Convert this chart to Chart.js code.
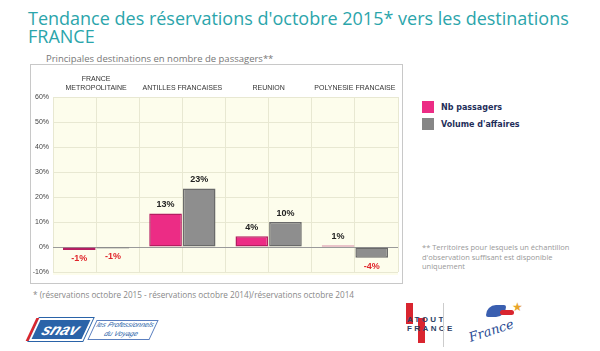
<!DOCTYPE html>
<html lang="fr">
<head>
<meta charset="UTF-8">
<title>Tendance des réservations</title>
<style>
    body { margin: 0; width: 600px; height: 351px; background: #fff; position: relative; overflow: hidden; font-family: 'Open Sans', sans-serif; }
    #title { position: absolute; left: 28px; top: 9px; font-size: 18px; line-height: 18px; color: #2ba5ab; white-space: nowrap; }
    #subtitle { position: absolute; left: 46px; top: 52px; font-size: 9.5px; color: #777; white-space: nowrap; }
    #box { position: absolute; left: 30px; top: 64px; width: 371px; height: 218px; border: 1px solid #c8c8c8; }
    #chartWrap { position: absolute; left: 31px; top: 65px; width: 370px; height: 218px; }
    .leg { position: absolute; left: 422px; font: bold 8px Verdana, 'DejaVu Sans', sans-serif; color: #1f2f5a; }
    .leg span { position: absolute; left: 0; top: 0; width: 12px; height: 12px; }
    .leg b { position: absolute; left: 19px; top: 2px; white-space: nowrap; }
    #note { position: absolute; left: 422px; top: 243px; font-size: 7.5px; line-height: 9.5px; color: #999; white-space: nowrap; }
    #foot { position: absolute; left: 33px; top: 289px; font-size: 8.2px; color: #888; white-space: nowrap; }
    #snav { position: absolute; left: 34px; top: 318px; width: 50px; height: 19px; background: #2a63a8; transform: skewX(-25deg); border: 2px solid #fff; box-shadow: -3px 0 0 #d8262e, 0 0 0 1px #2a63a8; color: #fff; font: italic bold 16px Arial, sans-serif; text-align: center; line-height: 19px; }
    #snav2 { position: absolute; left: 92px; top: 320px; width: 60px; height: 18px; border: 1px solid #5a7fbf; transform: skewX(-25deg); color: #2a63a8; font: italic 7px Arial, sans-serif; line-height: 8.5px; text-align: center; }
    #atout { position: absolute; left: 406px; top: 303px; width: 40px; height: 42px; font: bold 8px Arial, sans-serif; color: #2c3f66; letter-spacing: 2.4px; }
    #atout .bar1 { position: absolute; left: 0; top: 0; width: 7px; height: 21px; background: #d9252f; }
    #atout .bar2 { position: absolute; left: 12px; top: 15px; width: 7px; height: 25px; background: #d9252f; }
    #atout .l1 { position: absolute; left: 1px; top: 12px; }
    #atout .l2 { position: absolute; left: 1px; top: 21px; }
    #sep { position: absolute; left: 443px; top: 303px; width: 1px; height: 44px; background: #ccc; }
    #fr { position: absolute; left: 468px; top: 323px; font: italic 13px 'DejaVu Serif', serif; color: #2a4b94; transform: rotate(-18deg); }
    #mar { position: absolute; left: 486px; top: 305px; width: 20px; height: 12px; border-radius: 10px 2px 10px 2px; background: #3a5fb0; }
    #mar2 { position: absolute; left: 500px; top: 310px; width: 14px; height: 5px; border-radius: 3px; background: #d9252f; }
    #star { position: absolute; left: 512px; top: 300px; font: 12px 'DejaVu Sans', sans-serif; color: #e8a52a; }
</style>
</head>
<body>
<div id="title">Tendance des réservations d'octobre 2015* vers les destinations<br>FRANCE</div>
<div id="subtitle">Principales destinations en nombre de passagers**</div>
<div id="box"></div>
<div id="chartWrap"><canvas id="myChart" width="370" height="218"></canvas></div>
<div class="leg" style="top:101px"><span style="background:#ec2c85"></span><b>Nb passagers</b></div>
<div class="leg" style="top:118px"><span style="background:#868686"></span><b>Volume d'affaires</b></div>
<div id="note">** Territoires pour lesquels un échantillon<br>d'observation suffisant est disponible<br>uniquement</div>
<div id="foot">* (réservations octobre 2015 - réservations octobre 2014)/réservations octobre 2014</div>
<div id="snav">snav</div>
<div id="snav2">les Professionnels<br>du Voyage</div>
<div id="atout"><div class="bar1"></div><div class="bar2"></div><div class="l1">ATOUT</div><div class="l2">FRANCE</div></div>
<div id="sep"></div>
<div id="mar"></div><div id="mar2"></div><div id="star">★</div>
<div id="fr">France</div>

<script src="https://cdn.jsdelivr.net/npm/chart.js"></script>
<script>
    const destinations = [["FRANCE", "METROPOLITAINE"], "ANTILLES FRANCAISES", "REUNION", "POLYNESIE FRANCAISE"];
    const nbPassagers = [-1.2, 13.4, 4.3, 0.6];
    const volumeAffaires = [-0.6, 23.4, 10, -4.3];
    const yTicks = [-10, 0, 10, 20, 30, 40, 50, 60];

    // cream background behind the plot
    const plotBg = {
        id: "plotBg",
        beforeDraw(chart) {
            const a = chart.chartArea;
            const ctx = chart.ctx;
            ctx.save();
            ctx.fillStyle = "#fdfdec";
            ctx.fillRect(a.left, a.top, a.right - a.left, a.bottom - a.top + 3);
            ctx.restore();
        }
    };

    // value labels on bars
    const valueLabels = {
        id: "valueLabels",
        afterDatasetsDraw(chart) {
            const ctx = chart.ctx;
            ctx.save();
            ctx.font = "bold 9px Arial, sans-serif";
            ctx.textAlign = "center";
            chart.data.datasets.forEach((ds, i) => {
                chart.getDatasetMeta(i).data.forEach((bar, j) => {
                    const v = ds.data[j];
                    const txt = Math.round(v) + "%";
                    if (v >= 0) {
                        ctx.fillStyle = "#222";
                        ctx.textBaseline = "bottom";
                        ctx.fillText(txt, bar.x, bar.y - 4);
                    } else {
                        ctx.fillStyle = "#e0262c";
                        ctx.textBaseline = "top";
                        ctx.fillText(txt, bar.x, bar.y + 4);
                    }
                });
            });
            ctx.restore();
        }
    };

    new Chart(document.getElementById("myChart"), {
        type: "bar",
        data: {
            labels: destinations,
            datasets: [
                {
                    label: "Nb passagers",
                    data: nbPassagers,
                    backgroundColor: "#ec2c85",
                    borderColor: "#b51d61",
                    borderWidth: 1.5,
                    borderSkipped: false
                },
                {
                    label: "Volume d'affaires",
                    data: volumeAffaires,
                    backgroundColor: "#8e8e8e",
                    borderColor: "#6a6a6a",
                    borderWidth: 1.5,
                    borderSkipped: false
                }
            ]
        },
        options: {
            responsive: false,
            animation: false,
            layout: { padding: { top: 0, left: 0, right: 3, bottom: 11 } },
            categoryPercentage: 0.78,
            barPercentage: 0.97,
            plugins: { legend: { display: false }, tooltip: { enabled: false } },
            scales: {
                x: {
                    position: "top",
                    grid: { color: "#e8e8d2", drawTicks: false, offset: true },
                    border: { display: false },
                    ticks: { color: "#333", font: { size: 7, family: "Arial" }, padding: 5, maxRotation: 0, autoSkip: false },
                    afterFit(s) { s.height = 32; }
                },
                x2: {
                    type: "category",
                    labels: destinations,
                    offset: true,
                    position: "top",
                    grid: { color: "#e8e8d2", drawTicks: false, offset: false },
                    border: { display: false },
                    ticks: { display: false },
                    afterFit(s) { s.height = 0; }
                },
                y: {
                    min: -10,
                    max: 60,
                    afterBuildTicks(s) { s.ticks = yTicks.map(v => ({ value: v })); },
                    grid: {
                        drawTicks: false,
                        color: c => c.tick.value === 0 ? "#9a9a9a" : "#e8e8d2"
                    },
                    border: { display: false },
                    ticks: { color: "#444", font: { size: 7, family: "Arial" }, padding: 4, callback: v => v + "%" },
                    afterFit(s) { s.width = 22; }
                }
            }
        },
        plugins: [plotBg, valueLabels]
    });
</script>
</body>
</html>
